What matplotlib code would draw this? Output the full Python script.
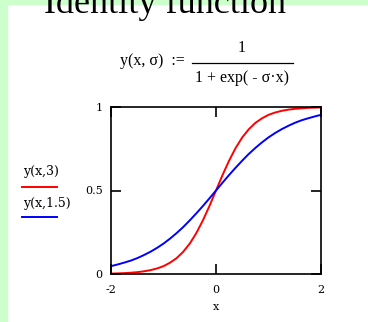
import matplotlib.pyplot as plt
from matplotlib.lines import Line2D
from matplotlib.patches import Rectangle

# sampled values of y(x, sigma) for the two curves, step 0.125
x = [-2, -1.875, -1.75, -1.625, -1.5, -1.375, -1.25, -1.125, -1,
     -0.875, -0.75, -0.625, -0.5, -0.375, -0.25, -0.125, 0,
     0.125, 0.25, 0.375, 0.5, 0.625, 0.75, 0.875, 1,
     1.125, 1.25, 1.375, 1.5, 1.625, 1.75, 1.875, 2]
y_s3 = [0.0025, 0.0036, 0.0052, 0.0076, 0.011, 0.016, 0.023, 0.033, 0.047,
        0.068, 0.095, 0.133, 0.182, 0.245, 0.321, 0.407, 0.5,
        0.593, 0.679, 0.755, 0.818, 0.867, 0.905, 0.932, 0.953,
        0.967, 0.977, 0.984, 0.989, 0.992, 0.995, 0.996, 0.9975]
y_s15 = [0.047, 0.057, 0.068, 0.080, 0.095, 0.113, 0.133, 0.156, 0.182,
         0.212, 0.245, 0.281, 0.321, 0.363, 0.407, 0.453, 0.5,
         0.547, 0.593, 0.637, 0.679, 0.719, 0.755, 0.788, 0.818,
         0.844, 0.867, 0.887, 0.905, 0.920, 0.932, 0.943, 0.953]

xticks = [-2, 0, 2]
xticklabels = ['-2', '0', '2']
yticks = [0, 0.5, 1]
yticklabels = ['0', '0.5', '1']

serif = 'Liberation Serif'
small = 'DejaVu Serif'
W, H = 368, 322

fig = plt.figure(figsize=(W / 100, H / 100), dpi=100, facecolor='white')

# green page border on the left and top
green = '#ccffcc'
fig.add_artist(Rectangle((0, 0), 7 / W, 1, transform=fig.transFigure,
                         color=green, zorder=0))
fig.add_artist(Rectangle((0, 1 - 4 / H), 1, 4 / H, transform=fig.transFigure,
                         color=green, zorder=0))

def px(xp, yp):
    return xp / W, 1 - yp / H

fig.text(*px(165, 13), 'Identity function', ha='center', va='baseline',
         fontsize=26, family=serif)

# formula
fig.text(*px(152, 61), 'y(x, σ)  :=', ha='center', va='center',
         fontsize=11.5, family=serif)
fig.text(*px(242, 48), '1', ha='center', va='center', fontsize=11.5, family=serif)
fig.add_artist(Line2D([192 / W, 293 / W], [1 - 63 / H, 1 - 63 / H],
                      transform=fig.transFigure, color='black', lw=0.9))
fig.text(*px(242, 78), '1 + exp( - σ·x)', ha='center', va='center',
         fontsize=11.5, family=serif)

ax = fig.add_axes([111 / W, 1 - 274 / H, 210 / W, 167 / H])
ax.plot(x, y_s3, color='#ff0000', lw=1.4)
ax.plot(x, y_s15, color='#0000ff', lw=1.4)
ax.set_xlim(-2, 2)
ax.set_ylim(0, 1)

for s in ax.spines.values():
    s.set_linewidth(1.2)

ax.set_xticks(xticks)
ax.set_xticklabels(xticklabels)
ax.set_yticks(yticks)
ax.set_yticklabels(yticklabels)
ax.tick_params(direction='in', length=7.5, width=1.2, top=True, right=True,
               labelsize=8)
ax.tick_params(axis='x', pad=8)
ax.tick_params(axis='y', pad=6)
for lab in ax.get_xticklabels() + ax.get_yticklabels():
    lab.set_family(small)
ax.set_xlabel('x', fontsize=8, family=small, labelpad=5)

# legend at the left
fig.text(*px(23, 172), 'y(x,3)', ha='left', va='center', fontsize=9, family=small)
fig.add_artist(Line2D([22 / W, 57 / W], [1 - 187 / H, 1 - 187 / H],
                      transform=fig.transFigure, color='#ff0000', lw=1.4))
fig.text(*px(23, 203), 'y(x,1.5)', ha='left', va='center', fontsize=9, family=small)
fig.add_artist(Line2D([22 / W, 57 / W], [1 - 217 / H, 1 - 217 / H],
                      transform=fig.transFigure, color='#0000ff', lw=1.4))

fig.savefig('out.png', dpi=100, facecolor='white')
